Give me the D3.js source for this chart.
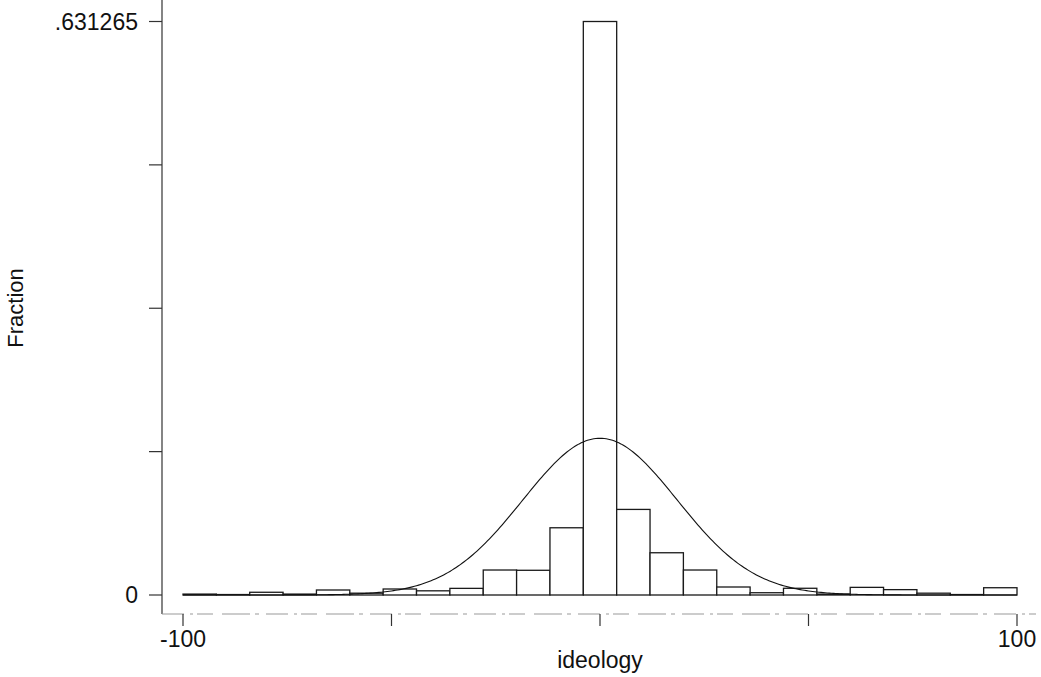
<!DOCTYPE html>
<html>
<head>
<meta charset="utf-8">
<script src="https://cdn.jsdelivr.net/npm/d3@7"></script>
<style>
  body { margin: 0; background: #fff; }
  svg { display: block; font-family: "Liberation Sans", Arial, sans-serif; }
</style>
</head>
<body>
<div id="chart"></div>
<script>
// histogram of ideology, 25 bins of width 8 from -100 to 100
var binStart = -100, binWidth = 8;
var fractions = [0.001, 0.0005, 0.003, 0.001, 0.0055, 0.002, 0.0066, 0.0046, 0.0073,
                 0.0275, 0.0272, 0.074, 0.631265, 0.0942, 0.0465, 0.0275, 0.0088,
                 0.0025, 0.0074, 0.001, 0.0084, 0.0059, 0.002, 0.0005, 0.008];
// normal overlay (fitted mean / sd)
var normMean = 0, normSd = 18.5;
var xTicks = [-100, -50, 0, 50, 100];
var xTickLabels = ["-100", "", "", "", "100"];
var yMax = 0.631265;
var yTicks = [0, yMax / 4, yMax / 2, yMax * 3 / 4, yMax];
var yTickLabels = ["0", "", "", "", ".631265"];

var width = 1041, height = 677;

var svg = d3.select("#chart").append("svg")
    .attr("width", width)
    .attr("height", height);

var x = d3.scaleLinear().domain([-100, 100]).range([183, 1017]);
var y = d3.scaleLinear().domain([0, yMax]).range([595, 21.5]);

var axisY = 614, axisX = 162;

// bars
svg.append("g")
  .selectAll("rect")
  .data(fractions)
  .enter().append("rect")
    .attr("x", function(d, i) { return x(binStart + i * binWidth); })
    .attr("y", function(d) { return y(d); })
    .attr("width", x(binStart + binWidth) - x(binStart))
    .attr("height", function(d) { return y(0) - y(d); })
    .attr("fill", "#fff")
    .attr("stroke", "#1a1a1a")
    .attr("stroke-width", 1.3);

// normal curve scaled to fraction per bin
var pts = d3.range(-100, 100.01, 0.5);
var line = d3.line()
    .x(function(d) { return x(d); })
    .y(function(d) {
      var z = (d - normMean) / normSd;
      return y(binWidth / (normSd * Math.sqrt(2 * Math.PI)) * Math.exp(-0.5 * z * z));
    });
svg.append("path")
    .datum(pts)
    .attr("d", line)
    .attr("fill", "none")
    .attr("stroke", "#111")
    .attr("stroke-width", 1.1);

// y axis
svg.append("line")
    .attr("x1", axisX).attr("x2", axisX)
    .attr("y1", 0).attr("y2", axisY)
    .attr("stroke", "#333").attr("stroke-width", 1.2);

svg.append("g").selectAll("line")
  .data(yTicks)
  .enter().append("line")
    .attr("x1", 149).attr("x2", axisX)
    .attr("y1", function(d) { return y(d); })
    .attr("y2", function(d) { return y(d); })
    .attr("stroke", "#333").attr("stroke-width", 1.2);

svg.append("g").selectAll("text")
  .data(yTicks)
  .enter().append("text")
    .attr("x", 138)
    .attr("y", function(d) { return y(d) + 8; })
    .attr("text-anchor", "end")
    .attr("font-size", "23px")
    .attr("fill", "#111")
    .text(function(d, i) { return yTickLabels[i]; });

// x axis (faint, broken line as in the scan)
svg.append("line")
    .attr("x1", axisX).attr("x2", 1036)
    .attr("y1", axisY).attr("y2", axisY)
    .attr("stroke", "#999").attr("stroke-width", 1.1)
    .attr("stroke-dasharray", "22,6,3,4,16,9,28,5,4,7");

svg.append("g").selectAll("line")
  .data(xTicks)
  .enter().append("line")
    .attr("x1", function(d) { return x(d); })
    .attr("x2", function(d) { return x(d); })
    .attr("y1", axisY).attr("y2", 626)
    .attr("stroke", "#333").attr("stroke-width", 1.2);

svg.append("g").selectAll("text")
  .data(xTicks)
  .enter().append("text")
    .attr("x", function(d) { return x(d); })
    .attr("y", 647)
    .attr("text-anchor", "middle")
    .attr("font-size", "23px")
    .attr("fill", "#111")
    .text(function(d, i) { return xTickLabels[i]; });

// axis titles
svg.append("text")
    .attr("x", 600)
    .attr("y", 668)
    .attr("text-anchor", "middle")
    .attr("font-size", "23px")
    .attr("fill", "#111")
    .text("ideology");

svg.append("text")
    .attr("transform", "translate(23,308) rotate(-90)")
    .attr("text-anchor", "middle")
    .attr("font-size", "22px")
    .attr("fill", "#111")
    .text("Fraction");
</script>
</body>
</html>
